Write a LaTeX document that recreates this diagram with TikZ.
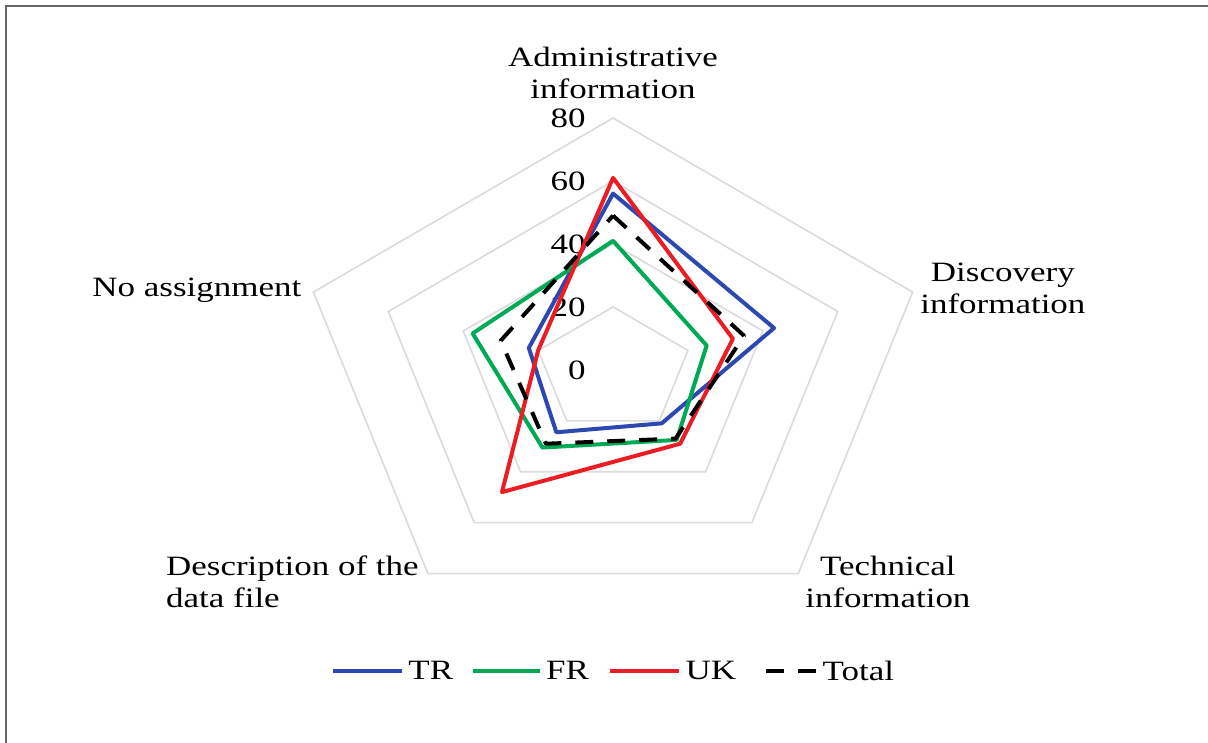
\documentclass[tikz,border=0pt]{standalone}
\usepackage{fontspec}
\setmainfont{Liberation Serif}[FakeStretch=1.25]

\definecolor{trblue}{RGB}{46,72,178}
\definecolor{frgreen}{RGB}{0,170,85}
\definecolor{ukred}{RGB}{236,28,36}

\tikzset{
    ring/.style={draw=black!14, line width=0.8pt},
    series/.style={line width=2pt, line join=round},
    axnum/.style={anchor=east},
    legendtxt/.style={anchor=west, inner xsep=3pt},
}

\begin{document}
\begin{tikzpicture}[x=1.97pt, y=1.575pt, font=\fontsize{14}{16}\selectfont]
    \useasboundingbox (-155.7,-118.4) rectangle (151.1,117.5);
    % frame
    \draw[black!60, line width=1pt] (-154.2,-118.4) -- (-154.2,115.6) -- (151.1,115.6);

    % rings and scale
    \foreach \r in {20,40,60,80}
        \draw[ring] (90:\r) -- (18:\r) -- (-54:\r) -- (-126:\r) -- (162:\r) -- cycle;
    \foreach \r in {0,20,40,60,80}
        \node[axnum] (n\r) at (-5.2,\r) {\r};

    % categories
    \node[align=center] (admin) at (0,94.3) {Administrative\\information};
    \node[align=center] (disc) at (99,26) {Discovery\\information};
    \node[align=center] (tech) at (69.8,-67.3) {Technical\\information};
    \node[align=left, anchor=west] (desc) at (-115.3,-67.3) {Description of the\\data file};
    \node[] (noassign) at (-105.7,25.4) {No assignment};

    % data
    \draw[series, trblue] (90:56) -- (18:43) -- (-54:21) -- (-126:24.5) -- (162:22.5) -- cycle;
    \draw[series, frgreen] (90:41) -- (18:25) -- (-54:27.5) -- (-126:30.5) -- (162:37.5) -- cycle;
    \draw[series, ukred] (90:61) -- (18:32) -- (-54:29) -- (-126:48) -- (162:20) -- cycle;
    \draw[series, black, dash pattern=on 9pt off 7pt] (90:49) -- (18:35) -- (-54:27) -- (-126:29) -- (162:30) -- cycle;

    % legend
    \node[legendtxt] (kTR) at (-53.6,-95.6) {TR};
    \node[legendtxt] (kFR) at (-18.6,-95.6) {FR};
    \node[legendtxt] (kUK) at (16.8,-95.6) {UK};
    \node[legendtxt] (kTotal) at (51.6,-95.6) {Total};
    \draw[series, trblue] (kTR.west) -- ++(-17.5,0);
    \draw[series, frgreen] (kFR.west) -- ++(-17,0);
    \draw[series, ukred] (kUK.west) -- ++(-17.5,0);
    \draw[series, black, dash pattern=on 9pt off 7pt] (kTotal.west) -- ++(-15.5,0);
\end{tikzpicture}
\end{document}
